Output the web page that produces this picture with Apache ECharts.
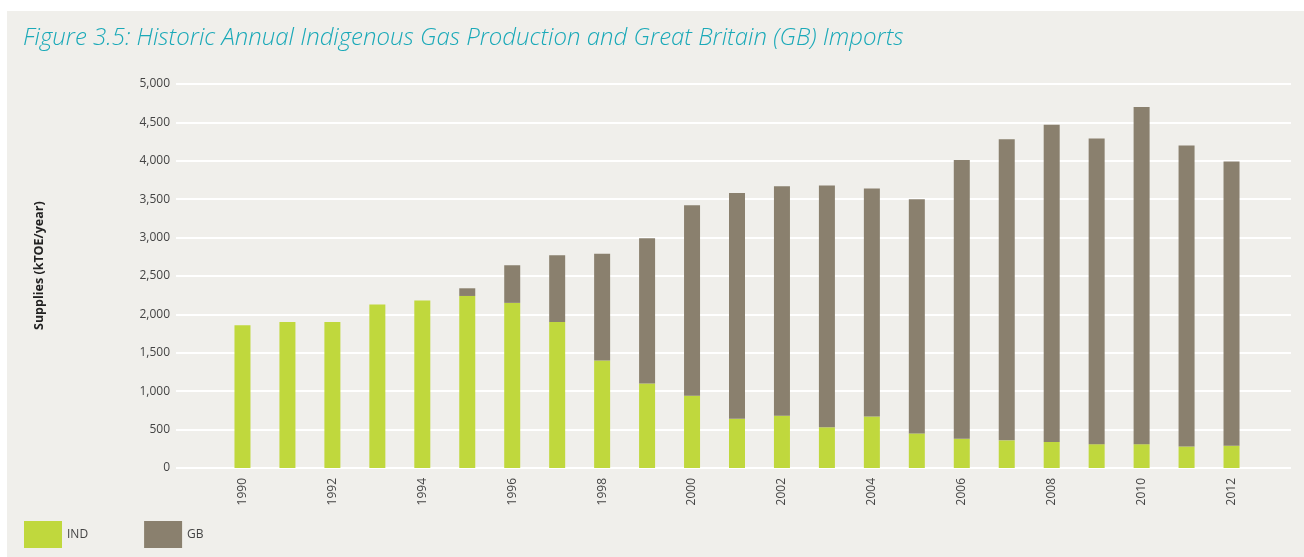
<!DOCTYPE html>
<html>
<head>
  <meta charset="utf-8">
  <title>Figure 3.5</title>
  <script src="https://cdn.jsdelivr.net/npm/echarts@6/dist/echarts.min.js"></script>
  <style>
    html, body { margin: 0; padding: 0; background: #fff; }
    #wrap { position: relative; width: 1304px; height: 557px; }
    #panel { position: absolute; left: 7px; top: 11px; right: 0; bottom: 0; background: #f0efeb; }
    #main { position: absolute; left: 0; top: 0; width: 1304px; height: 557px; }
  </style>
</head>
<body>
  <div id="wrap">
    <div id="panel"></div>
    <div id="main"></div>
  </div>

  <script>
  // data (kTOE/year)
  var years = ['1990', '1991', '1992', '1993', '1994', '1995', '1996', '1997', '1998', '1999', '2000', '2001',
               '2002', '2003', '2004', '2005', '2006', '2007', '2008', '2009', '2010', '2011', '2012'];
  var indValues = [1860, 1900, 1900, 2130, 2180, 2240, 2150, 1900, 1400, 1100, 940, 640,
                   680, 530, 670, 450, 380, 360, 340, 310, 310, 280, 290];
  var gbValues = [0, 0, 0, 0, 0, 100, 490, 870, 1390, 1890, 2480, 2940,
                  2990, 3150, 2970, 3050, 3630, 3920, 4130, 3980, 4390, 3920, 3700];

  var GREEN = '#c0d83d';
  var BROWN = '#8a806e';
  var FONT = 'Open Sans';

  var myChart = echarts.init(document.getElementById('main'));
  myChart.setOption({
    backgroundColor: 'transparent',
    animation: false,
    textStyle: { fontFamily: FONT },
    title: {
      text: 'Figure 3.5: Historic Annual Indigenous Gas Production and Great Britain (GB) Imports',
      left: 18,
      top: 21,
      textStyle: { fontFamily: FONT, fontSize: 24, fontStyle: 'italic', fontWeight: 300, color: '#1aa9b8' }
    },
    legend: {
      left: 19,
      top: 516,
      itemWidth: 38,
      itemHeight: 27,
      itemGap: 56,
      icon: 'rect',
      textStyle: { fontFamily: FONT, fontSize: 12, color: '#444', lineHeight: 16, padding: [8, 0, 0, 0] },
      data: ['IND', 'GB']
    },
    graphic: [{
      type: 'text',
      rotation: Math.PI / 2,
      x: 33, y: 330,
      style: {
        text: 'Supplies (kTOE/year)',
        font: 'bold 12.5px "Open Sans"',
        fill: '#222',
        textVerticalAlign: 'top'
      }
    }],
    // grid 0 carries the gridlines (wider), grid 1 carries the bars
    grid: [
      { left: 176, right: 13, top: 84, bottom: 89 },
      { left: 220, right: 50, top: 84, bottom: 89 }
    ],
    xAxis: [
      { type: 'category', gridIndex: 0, data: years, show: false },
      {
        type: 'category', gridIndex: 1, data: years,
        axisLine: { show: false },
        axisTick: { show: false },
        axisLabel: { interval: 1, rotate: 90, margin: 10, fontSize: 12, color: '#444', fontFamily: FONT }
      }
    ],
    yAxis: [
      {
        type: 'value', gridIndex: 0, min: 0, max: 5000, interval: 500,
        axisLine: { show: false },
        axisTick: { show: false },
        axisLabel: {
          margin: 6, fontSize: 12, color: '#444', fontFamily: FONT,
          formatter: function (v) { return v.toLocaleString('en-US'); }
        },
        splitLine: { lineStyle: { color: '#ffffff', width: 2 } }
      },
      { type: 'value', gridIndex: 1, min: 0, max: 5000, interval: 500, show: false, splitLine: { show: false } }
    ],
    series: [
      {
        name: 'IND', type: 'bar', stack: 'total', xAxisIndex: 1, yAxisIndex: 1,
        barWidth: 16, itemStyle: { color: GREEN }, data: indValues
      },
      {
        name: 'GB', type: 'bar', stack: 'total', xAxisIndex: 1, yAxisIndex: 1,
        barWidth: 16, itemStyle: { color: BROWN }, data: gbValues
      }
    ]
  });
  </script>
</body>
</html>
